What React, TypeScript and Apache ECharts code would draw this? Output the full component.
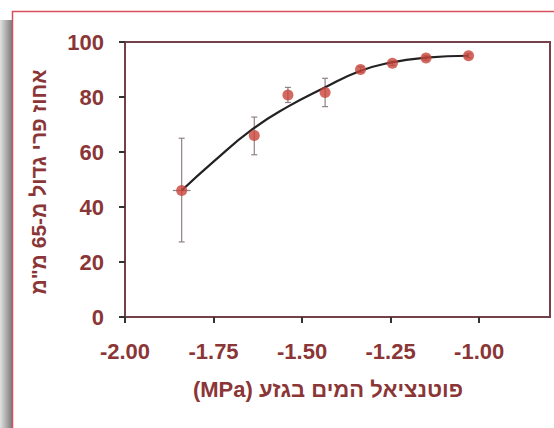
import React, { useEffect, useRef } from "react";
import * as echarts from "echarts";

// Measured points (x: stem water potential, MPa; y: % large fruit)
const xVals = [-1.84, -1.635, -1.54, -1.435, -1.335, -1.245, -1.15, -1.03];
const yVals = [46, 66, 80.7, 81.6, 90, 92.3, 94.2, 95];
const yLow = [27.3, 59, 78, 76.5, 89, 91.5, 93.4, 94.3];
const yHigh = [65, 72.7, 83.5, 86.8, 91, 93, 95, 95.7];
const xErr = [0.025, 0, 0, 0, 0, 0, 0, 0];

// Fitted curve
const curveX = [-1.84, -1.75, -1.64, -1.54, -1.44, -1.34, -1.25, -1.15, -1.03];
const curveY = [46, 56.5, 68.3, 76.5, 83.2, 89.3, 92.5, 94.3, 95];

const xTicks = [-2, -1.75, -1.5, -1.25, -1];

const yTitle = "אחוז פרי גדול מ-65 מ\"מ";
const xTitle = "\u202Bפוטנציאל המים בגזע (MPa)\u202C";

const textColor = "#8b3636";
const axisColor = "#74404a";
const font = "'Liberation Sans', Arial, sans-serif";

export default function App() {
  const ref = useRef<HTMLDivElement>(null);
  useEffect(() => {
    if (!ref.current) return;
    const chart = echarts.init(ref.current, null, { renderer: "svg" });
    chart.setOption({
      animation: false,
      backgroundColor: "#ffffff",
      grid: {
        left: 125,
        top: 42,
        right: 4,
        bottom: 111,
        show: true,
        backgroundColor: "#ffffff",
        borderColor: axisColor,
        borderWidth: 2,
      },
      xAxis: {
        type: "value",
        min: -2,
        max: -0.8,
        interval: 0.25,
        splitLine: { show: false },
        axisLine: { show: true, onZero: false, lineStyle: { color: axisColor, width: 2 } },
        axisTick: { show: true, length: 6, customValues: xTicks, lineStyle: { color: "#333", width: 2 } },
        axisLabel: {
          customValues: xTicks,
          formatter: (v: number) => v.toFixed(2),
          color: textColor,
          fontSize: 22,
          fontWeight: "bold",
          fontFamily: font,
          margin: 23,
        },
      },
      yAxis: {
        type: "value",
        min: 0,
        max: 100,
        interval: 20,
        splitLine: { show: false },
        axisLine: { show: true, lineStyle: { color: axisColor, width: 2 } },
        axisTick: { show: true, length: 6, lineStyle: { color: "#333", width: 2 } },
        axisLabel: {
          color: textColor,
          fontSize: 22,
          fontWeight: "bold",
          fontFamily: font,
          margin: 21,
        },
      },
      series: [
        {
          type: "custom",
          z: 1,
          data: xVals.map((x, i) => [x, yLow[i], yHigh[i], xErr[i], yVals[i]]),
          renderItem: (params: any, api: any) => {
            const x = api.value(0);
            const lo = api.value(1);
            const hi = api.value(2);
            const xe = api.value(3);
            const yc = api.value(4);
            const pLo = api.coord([x, lo]);
            const pHi = api.coord([x, hi]);
            const st = { stroke: "#8f8288", lineWidth: 1.2 };
            const children: any[] = [
              { type: "line", shape: { x1: pLo[0], y1: pLo[1], x2: pHi[0], y2: pHi[1] }, style: st },
              { type: "line", shape: { x1: pLo[0] - 3, y1: pLo[1], x2: pLo[0] + 3, y2: pLo[1] }, style: st },
              { type: "line", shape: { x1: pHi[0] - 3, y1: pHi[1], x2: pHi[0] + 3, y2: pHi[1] }, style: st },
            ];
            if (xe > 0) {
              const pL = api.coord([x - xe, yc]);
              const pR = api.coord([x + xe, yc]);
              children.push({ type: "line", shape: { x1: pL[0], y1: pL[1], x2: pR[0], y2: pR[1] }, style: st });
            }
            return { type: "group", children };
          },
        },
        {
          type: "line",
          z: 2,
          smooth: true,
          showSymbol: false,
          data: curveX.map((x, i) => [x, curveY[i]]),
          lineStyle: { color: "#222222", width: 2.2 },
        },
        {
          type: "scatter",
          z: 3,
          symbolSize: 11,
          data: xVals.map((x, i) => [x, yVals[i]]),
          itemStyle: { color: "#c8443a" },
        },
      ],
      graphic: [
        {
          type: "rect",
          z: 100,
          shape: { x: 0, y: 20, width: 12, height: 420 },
          style: {
            fill: new echarts.graphic.LinearGradient(0, 0, 1, 0, [
              { offset: 0, color: "#e2e2e2" },
              { offset: 1, color: "#7c7c7c" },
            ]),
          },
        },
        {
          type: "rect",
          z: 100,
          shape: { x: 12.5, y: 11.5, width: 600, height: 500 },
          style: { fill: "none", stroke: "#d6505c", lineWidth: 1.5 },
        },
        {
          type: "text",
          z: 100,
          x: 38,
          y: 182,
          rotation: Math.PI / 2,
          style: {
            text: yTitle,
            fill: textColor,
            font: `bold 21px ${font}`,
            align: "center",
            verticalAlign: "middle",
          },
        },
        {
          type: "text",
          z: 100,
          x: 328,
          y: 389,
          style: {
            text: xTitle,
            fill: textColor,
            font: `bold 22px ${font}`,
            align: "center",
            verticalAlign: "middle",
          },
        },
      ],
    });
    return () => chart.dispose();
  }, []);
  return (
    <div
      ref={ref}
      style={{ position: "fixed", left: 0, top: 0, width: 554, height: 428 }}
    />
  );
}
